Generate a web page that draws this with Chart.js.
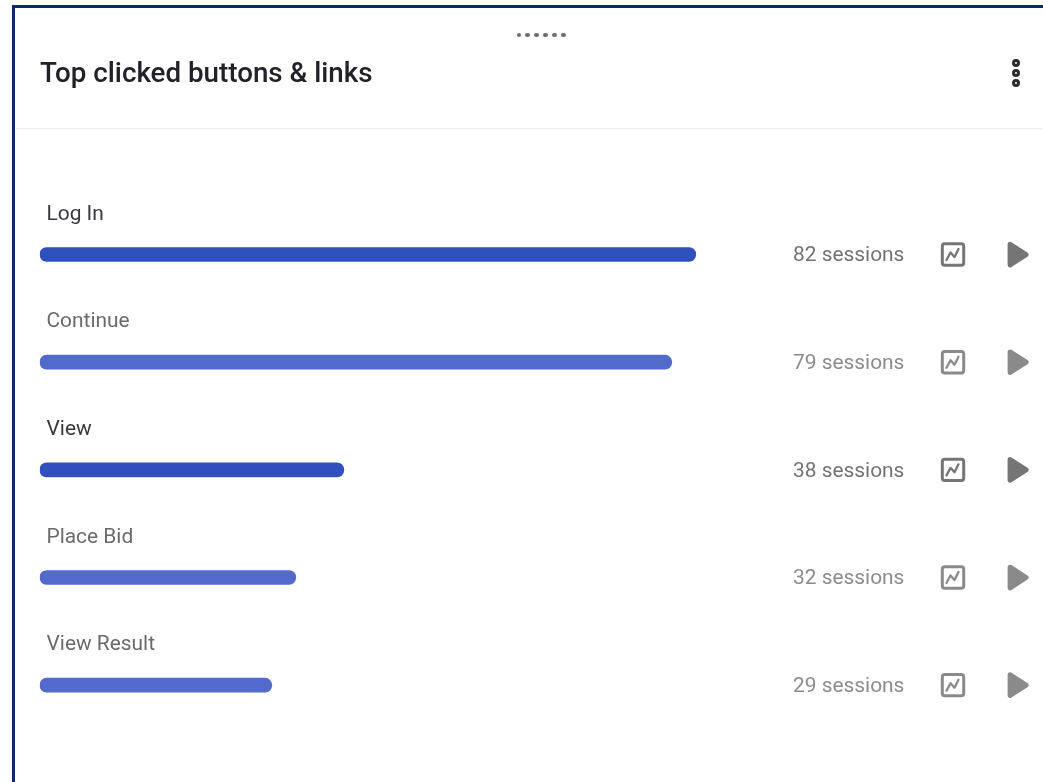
<!DOCTYPE html>
<html lang="en">
<head>
<meta charset="utf-8">
<title>Top clicked buttons &amp; links</title>
<script src="https://cdn.jsdelivr.net/npm/chart.js@4"></script>
<style>
  html, body { margin: 0; padding: 0; background: #fff; overflow: hidden; }
  #wrap { position: relative; width: 1043px; height: 782px; }
  #frame { position: absolute; left: 11.5px; top: 5px; width: 1040px; height: 790px;
           border: 3px solid #0b2a6b; box-sizing: border-box; }
  #rule { position: absolute; left: 16px; right: 0; top: 127.5px; height: 1.5px; background: #eeeef2; }
  h1 { position: absolute; left: 40px; top: 55.5px; margin: 0; font: 500 27.75px/34px Roboto, sans-serif;
       color: #212227; white-space: nowrap; }
  #grip { position: absolute; left: 516.5px; top: 32.5px; display: flex; gap: 4.2px; }
  #grip i { width: 4.8px; height: 4.8px; border-radius: 50%; background: #6f6f6f; }
  #kebab { position: absolute; left: 1012px; top: 59.3px; display: flex; flex-direction: column; gap: 2px; }
  #kebab i { width: 8px; height: 8px; box-sizing: border-box; border: 3px solid #2c2c2c; border-radius: 50%; }
  canvas { position: absolute; left: 0; top: 0; }
</style>
</head>
<body>
<div id="wrap">
  <canvas id="chart" width="1043" height="782"></canvas>
  <div id="frame"></div>
  <div id="rule"></div>
  <h1>Top clicked buttons &amp; links</h1>
  <div id="grip"><i></i><i></i><i></i><i></i><i></i><i></i></div>
  <div id="kebab"><i></i><i></i><i></i></div>
</div>
<script>
const categories = ["Log In", "Continue", "View", "Place Bid", "View Result"];
const sessions = [82, 79, 38, 32, 29];
const barColors = ["#3050bd", "#526bcb", "#3050bd", "#526bcb", "#526bcb"];
const labelColors = ["#37393f", "#6a6a6a", "#37393f", "#6a6a6a", "#6a6a6a"];
const countColors = ["#737373", "#8c8c8c", "#737373", "#8c8c8c", "#8c8c8c"];
const iconColors = ["#757575", "#8a8a8a", "#757575", "#8a8a8a", "#8a8a8a"];

// Draws the trend icon: rounded square holding a small zigzag line.
function drawTrendIcon(ctx, cx, cy, color) {
  ctx.save();
  ctx.strokeStyle = color;
  ctx.lineWidth = 3;
  ctx.lineJoin = "round";
  ctx.lineCap = "round";
  ctx.beginPath();
  ctx.roundRect(cx - 10.7, cy - 10.7, 21.4, 21.4, 2.5);
  ctx.stroke();
  ctx.lineWidth = 2.3;
  ctx.beginPath();
  ctx.moveTo(cx - 6.5, cy + 5.5);
  ctx.lineTo(cx - 2.5, cy - 2);
  ctx.lineTo(cx + 1.5, cy + 2.5);
  ctx.lineTo(cx + 5.5, cy - 5.5);
  ctx.stroke();
  ctx.restore();
}

// Draws the replay icon: a right-pointing triangle with softened corners.
function drawPlayIcon(ctx, cx, cy, color) {
  ctx.save();
  ctx.fillStyle = color;
  ctx.strokeStyle = color;
  ctx.lineWidth = 5;
  ctx.lineJoin = "round";
  ctx.beginPath();
  ctx.moveTo(cx - 7.2, cy - 10.3);
  ctx.lineTo(cx + 8.8, cy);
  ctx.lineTo(cx - 7.2, cy + 10.3);
  ctx.closePath();
  ctx.fill();
  ctx.stroke();
  ctx.restore();
}

// Row furniture: name above each bar, then the count and action icons on the right.
const rowDecorations = {
  id: "rowDecorations",
  afterDatasetsDraw(chart) {
    const { ctx, scales: { y } } = chart;
    ctx.save();
    ctx.textBaseline = "middle";
    ctx.textAlign = "left";
    categories.forEach((name, i) => {
      const cy = y.getPixelForValue(i);
      ctx.font = "400 20.9px Roboto, sans-serif";
      ctx.fillStyle = labelColors[i];
      ctx.fillText(name, 46.5, cy - 40);
      ctx.fillStyle = countColors[i];
      ctx.fillText(sessions[i] + " sessions", 793, cy + 1.5);
      drawTrendIcon(ctx, 953, cy, iconColors[i]);
      drawPlayIcon(ctx, 1017.3, cy, iconColors[i]);
    });
    ctx.restore();
  }
};

new Chart(document.getElementById("chart"), {
  type: "bar",
  data: {
    labels: categories,
    datasets: [{
      data: sessions,
      backgroundColor: barColors,
      barThickness: 14,
      borderRadius: 7,
      borderSkipped: false
    }]
  },
  plugins: [rowDecorations],
  options: {
    indexAxis: "y",
    responsive: false,
    animation: false,
    events: [],
    layout: { padding: { left: 39.8, right: 43.2, top: 200.7, bottom: 43 } },
    scales: {
      x: { display: false, min: 0, max: 120 },
      y: { display: false }
    },
    plugins: { legend: { display: false }, tooltip: { enabled: false } }
  }
});
</script>
</body>
</html>
